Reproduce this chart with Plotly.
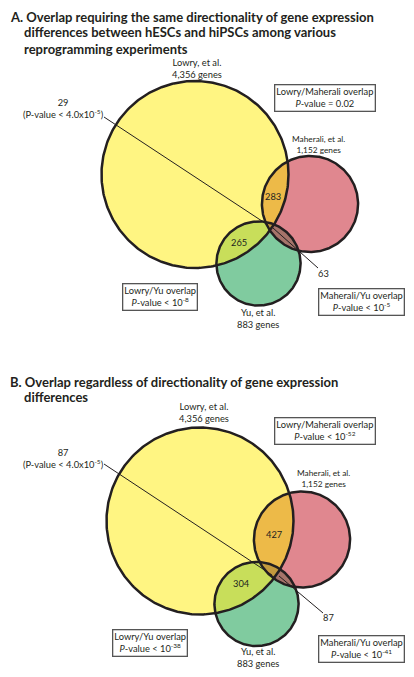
import numpy as np
import plotly.graph_objects as go

# ---------------- data ----------------
set_names = ["Lowry, et al.", "Maherali, et al.", "Yu, et al."]
set_sizes = [4356, 1152, 883]
pair_names = ["Lowry/Maherali", "Lowry/Yu", "Maherali/Yu"]

a_pair_counts = [283, 265, 63]
a_triple = 29
a_pvalues = ["= 0.02", "< 10<sup>-8</sup>", "< 10<sup>-5</sup>"]

b_pair_counts = [427, 304, 87]
b_triple = 87
b_pvalues = ["< 10<sup>-52</sup>", "< 10<sup>-38</sup>", "< 10<sup>-41</sup>"]

triple_pvalue = "4.0x10<sup>-5</sup>"

title_a = ["A. Overlap requiring the same directionality of gene expression",
           "differences between hESCs and hiPSCs among various",
           "reprogramming experiments"]
title_b = ["B. Overlap regardless of directionality of gene expression",
           "differences"]

# ---------------- layout / style ----------------
PAGE_W, PAGE_H = 414, 677
BODY_MARGIN = 8          # default browser body margin around the plot div
W, H = PAGE_W - 2 * BODY_MARGIN, PAGE_H - 2 * BODY_MARGIN
PX_PER_SQRT_GENE = 93.5 / np.sqrt(4356)
FONT = "Lato"
INK = "#231F20"
TITLE_SIZE = 13
set_colors = ["#FFF582", "#E0878F", "#80CB9F"]
pair_colors = ["#EDBA48", "#C8DE5A", "#A6746A"]
triple_color = "#C49A3E"

# positions below are in page pixels
panels = [
    dict(centers=[(195, 174.5), (310, 204), (258.5, 263.5)],
         counts=a_pair_counts, triple=a_triple, pvals=a_pvalues, title=title_a,
         title_y=16.5,
         name_pos=[(197, 62), (318, 139), (258, 312)],
         count_pos=[(273, 196), (239, 242), (323, 273)],
         box_pos=[(325, 98), (159.5, 296.5), (361, 301.5)],
         triple_label=(63, 102),
         lead1=[(104, 117), (268, 225)], lead2=[(273, 228), (318, 268)]),
    dict(centers=[(200, 521), (302, 539.5), (256.5, 604)],
         counts=b_pair_counts, triple=b_triple, pvals=b_pvalues, title=title_b,
         title_y=382,
         name_pos=[(204, 406), (323, 473), (258, 651)],
         count_pos=[(274, 534), (241, 583), (328, 617)],
         box_pos=[(325, 430.5), (150, 642.5), (361.5, 648.5)],
         triple_label=(63, 452),
         lead1=[(104, 464), (272, 575)], lead2=[(279, 576), (323, 613)]),
]

fig = go.Figure()
annotations = []


def circle_pts(c, r, n=360):
    t = np.linspace(0, 2 * np.pi, n + 1)
    return c[0] + r * np.cos(t), c[1] + r * np.sin(t)


def region(circles, n=1440):
    xs, ys = [], []
    for i, (c, r) in enumerate(circles):
        t = np.linspace(0, 2 * np.pi, n, endpoint=False)
        px, py = c[0] + r * np.cos(t), c[1] + r * np.sin(t)
        keep = np.ones(n, bool)
        for j, (c2, r2) in enumerate(circles):
            if j != i:
                keep &= (px - c2[0]) ** 2 + (py - c2[1]) ** 2 <= r2 ** 2 + 1e-6
        xs.append(px[keep]); ys.append(py[keep])
    xs = np.concatenate(xs); ys = np.concatenate(ys)
    cx, cy = xs.mean(), ys.mean()
    order = np.argsort(np.arctan2(ys - cy, xs - cx))
    xs, ys = xs[order], ys[order]
    return np.append(xs, xs[0]), np.append(ys, ys[0])


def two_line(x0, y0, text, size, lh):
    return dict(x=x0, y=y0 + lh / 2, text=text, xanchor="center", yanchor="middle",
                showarrow=False, font=dict(family=FONT, size=size, color=INK))


for p in panels:
    radii = [PX_PER_SQRT_GENE * np.sqrt(s) for s in set_sizes]
    circ = list(zip(p["centers"], radii))
    for (c, r), col in zip(circ, set_colors):
        x, y = circle_pts(c, r)
        fig.add_trace(go.Scatter(x=x, y=y, mode="lines", fill="toself", fillcolor=col,
                                 line=dict(width=0), hoverinfo="skip", showlegend=False))
    pairs = [(0, 1), (0, 2), (1, 2)]
    for (i, j), col in zip(pairs, pair_colors):
        x, y = region([circ[i], circ[j]])
        fig.add_trace(go.Scatter(x=x, y=y, mode="lines", fill="toself", fillcolor=col,
                                 line=dict(width=0), hoverinfo="skip", showlegend=False))
    x, y = region(circ)
    fig.add_trace(go.Scatter(x=x, y=y, mode="lines", fill="toself", fillcolor=triple_color,
                             line=dict(width=0), hoverinfo="skip", showlegend=False))
    for c, r in circ:
        x, y = circle_pts(c, r)
        fig.add_trace(go.Scatter(x=x, y=y, mode="lines", line=dict(color=INK, width=2.5),
                                 hoverinfo="skip", showlegend=False))
    for seg in (p["lead1"], p["lead2"]):
        fig.add_trace(go.Scatter(x=[seg[0][0], seg[1][0]], y=[seg[0][1], seg[1][1]],
                                 mode="lines", line=dict(color=INK, width=1),
                                 hoverinfo="skip", showlegend=False))
    # title: first line flush left, continuation lines indented (one block)
    tfont = dict(family=FONT, size=TITLE_SIZE, color=INK, weight="bold")
    annotations.append(dict(x=BODY_MARGIN, y=p["title_y"], text=p["title"][0],
                            xanchor="left", yanchor="middle", showarrow=False, font=tfont))
    annotations.append(dict(x=22, y=p["title_y"] + 5, text="<br>".join(p["title"][1:]),
                            xanchor="left", yanchor="top", align="left", showarrow=False,
                            font=tfont))
    for name, size, (x0, y0) in zip(set_names, set_sizes, p["name_pos"]):
        small = name.startswith("Maherali")
        lh = 10.5 if small else 12.5
        annotations.append(two_line(x0, y0, f"{name}<br>{size:,} genes",
                                    8.3 if small else 9.3, lh))
    for cnt, (x0, y0) in zip(p["counts"], p["count_pos"]):
        annotations.append(dict(x=x0, y=y0, text=str(cnt), showarrow=False,
                                xanchor="center", yanchor="middle",
                                font=dict(family=FONT, size=9.3, color=INK)))
    tx, ty = p["triple_label"]
    annotations.append(two_line(tx, ty, f"{p['triple']}<br>(P-value < {triple_pvalue})", 9.3, 13))
    for pn, pv, (x0, y0) in zip(pair_names, p["pvals"], p["box_pos"]):
        annotations.append(dict(x=x0, y=y0, text=f"{pn} overlap<br><i>P</i>-value {pv}",
                                showarrow=False, xanchor="center", yanchor="middle",
                                bordercolor="#555555", borderwidth=1.3, borderpad=1,
                                bgcolor="white",
                                font=dict(family=FONT, size=9.3, color=INK)))

fig.update_layout(
    width=W, height=H, margin=dict(l=0, r=0, t=0, b=0),
    paper_bgcolor="white", plot_bgcolor="white",
    xaxis=dict(range=[BODY_MARGIN, BODY_MARGIN + W], visible=False, fixedrange=True),
    yaxis=dict(range=[BODY_MARGIN + H, BODY_MARGIN], visible=False, fixedrange=True),
    annotations=annotations, showlegend=False,
)
fig.write_html("out.html")
